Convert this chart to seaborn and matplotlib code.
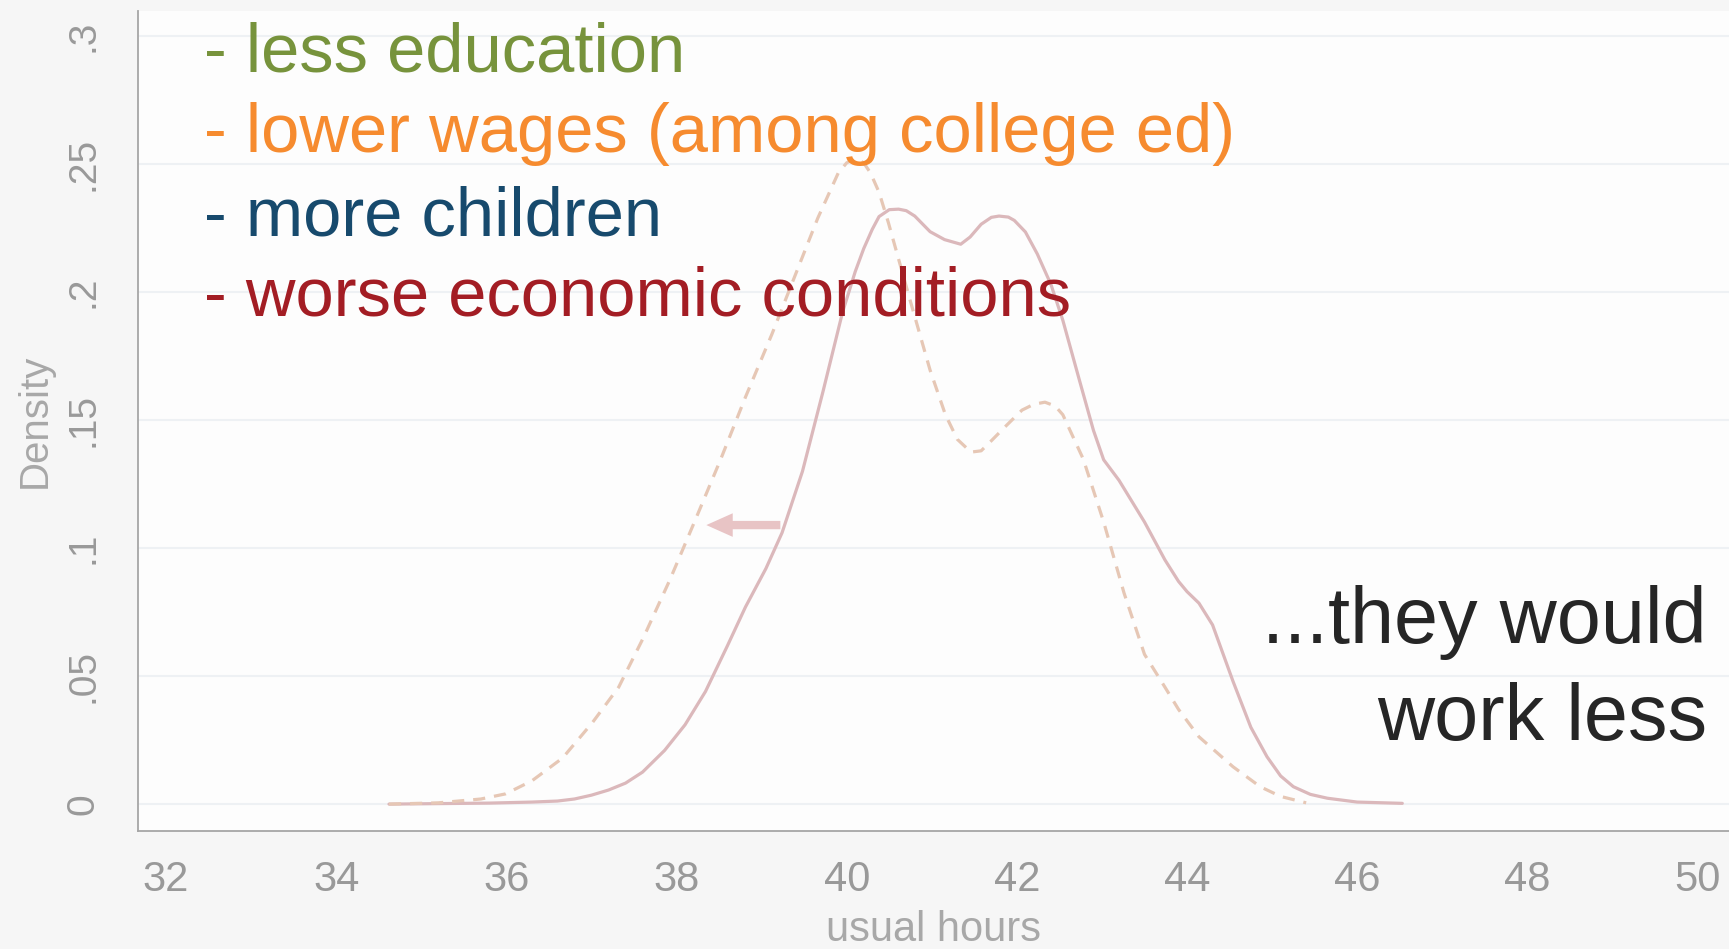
import matplotlib
matplotlib.use("Agg")
import matplotlib.pyplot as plt
import seaborn as sns
import pandas as pd

# ---- data ----
hours_actual = [34.62, 35.2, 35.8, 36.3, 36.6, 36.8, 37.0, 37.2, 37.4, 37.6, 37.86, 38.1,
                38.34, 38.6, 38.81, 39.05, 39.24, 39.48, 39.72, 39.95, 40.1, 40.2, 40.3,
                40.38, 40.5, 40.61, 40.7, 40.8, 40.98, 41.15, 41.34, 41.45, 41.58, 41.7,
                41.79, 41.9, 41.97, 42.1, 42.24, 42.4, 42.54, 42.74, 42.9, 43.02, 43.2,
                43.5, 43.74, 43.9, 44.0, 44.14, 44.3, 44.54, 44.75, 44.94, 45.1, 45.25,
                45.45, 45.65, 46.0, 46.53]
density_actual = [0.0, 0.0002, 0.0004, 0.0008, 0.0012, 0.002, 0.0035, 0.0055, 0.0082, 0.0125,
                  0.021, 0.031, 0.044, 0.062, 0.077, 0.092, 0.106, 0.130, 0.161, 0.192,
                  0.208, 0.217, 0.2245, 0.2295, 0.2322, 0.2324, 0.2318, 0.2297, 0.2236,
                  0.2205, 0.2187, 0.2215, 0.2265, 0.2292, 0.2297, 0.2293, 0.228, 0.2235,
                  0.2149, 0.203, 0.189, 0.165, 0.146, 0.1345, 0.1265, 0.1102, 0.0954,
                  0.087, 0.083, 0.0785, 0.070, 0.048, 0.030, 0.0185, 0.011, 0.0068, 0.0038,
                  0.0023, 0.0008, 0.0003]

hours_counterfactual = [34.62, 35.2, 35.7, 35.99, 36.3, 36.66, 37.01, 37.32, 37.61, 37.92,
                        38.21, 38.52, 38.81, 39.12, 39.41, 39.66, 39.9, 40.0, 40.1, 40.2,
                        40.28, 40.38, 40.49, 40.74, 40.98, 41.16, 41.3, 41.46, 41.58, 41.69,
                        41.88, 42.06, 42.2, 42.33, 42.45, 42.54, 42.78, 43.02, 43.26, 43.5,
                        43.74, 43.9, 44.14, 44.54, 44.86, 45.1, 45.4]
density_counterfactual = [0.0, 0.0005, 0.002, 0.004, 0.0091, 0.018, 0.0318, 0.0457, 0.065,
                          0.0875, 0.1102, 0.1348, 0.159, 0.1835, 0.2079, 0.2289, 0.2465,
                          0.2505, 0.2522, 0.2505, 0.2465, 0.239, 0.2271, 0.1974, 0.1695,
                          0.1521, 0.1425, 0.1375, 0.138, 0.1416, 0.148, 0.1539, 0.1562,
                          0.157, 0.1555, 0.1521, 0.1348, 0.1102, 0.0824, 0.0585, 0.0457,
                          0.037, 0.0263, 0.0146, 0.0068, 0.003, 0.0005]

x_ticks = [32, 34, 36, 38, 40, 42, 44, 46, 48, 50]
y_ticks = [0, 0.05, 0.10, 0.15, 0.20, 0.25, 0.30]
y_tick_labels = ["0", ".05", ".1", ".15", ".2", ".25", ".3"]

bullets = ["- less education", "- lower wages (among college ed)",
           "- more children", "- worse economic conditions"]
bullet_colors = ["#77933c", "#f68b2f", "#174a6d", "#a31d24"]
conclusion = ["...they would", "work less"]

# ---- style ----
sns.set_style("white")
plt.rcParams["font.family"] = ["Liberation Sans", "DejaVu Sans"]

fig = plt.figure(figsize=(17.29, 9.49), dpi=100, facecolor="#f6f6f6")
ax = fig.add_axes([138 / 1729, 1 - 831 / 949, 1 - 138 / 1729, (831 - 11) / 949])
ax.set_facecolor("#fdfdfd")

df_a = pd.DataFrame({"hours": hours_actual, "density": density_actual})
df_c = pd.DataFrame({"hours": hours_counterfactual, "density": density_counterfactual})

sns.lineplot(data=df_a, x="hours", y="density", ax=ax, color="#dbb8bb", lw=2.3,
             sort=False, estimator=None, zorder=3)
line_a = ax.lines[-1]
line_a.set_solid_joinstyle("round")
sns.lineplot(data=df_c, x="hours", y="density", ax=ax, color="#e6c7b5", lw=2.3,
             sort=False, estimator=None, zorder=3)
ax.lines[-1].set_linestyle((0, (3.8, 2.8)))

ax.annotate("", xy=(38.35, 0.109), xytext=(39.22, 0.109),
            arrowprops=dict(arrowstyle="simple,head_length=0.95,head_width=0.85,tail_width=0.3",
                            mutation_scale=20, color="#e8c4c5", lw=0, shrinkA=0, shrinkB=0),
            zorder=4)

ax.set_xlim(31.67, 50.37)
ax.set_ylim(-0.0105, 0.3098)
ax.set_xticks(x_ticks)
ax.set_xticklabels([str(t) for t in x_ticks])
ax.set_yticks(y_ticks)
ax.set_yticklabels(y_tick_labels, rotation=90, va="center")

ax.grid(axis="y", color="#eef1f4", lw=1.5)
ax.grid(axis="x", visible=False)
ax.set_axisbelow(True)

for s in ["top", "right"]:
    ax.spines[s].set_visible(False)
for s in ["left", "bottom"]:
    ax.spines[s].set_color("#a6a6a6")
    ax.spines[s].set_linewidth(1.3)

ax.tick_params(axis="both", which="major", direction="out", length=12, width=1.2,
               color="#a6a6a6", labelcolor="#999999", labelsize=30)
ax.tick_params(axis="y", pad=14, labelsize=28)
ax.tick_params(axis="x", pad=9)

ax.set_xlabel("usual hours", fontsize=30, color="#a8a8a8")
ax.xaxis.set_label_coords(0.5, -0.1207)
ax.xaxis.label.set_va("center")
ax.set_ylabel("Density", fontsize=29, color="#a8a8a8")
ax.yaxis.set_label_coords(-0.0647, 0.5)
ax.yaxis.label.set_va("center")

bullet_baselines = [71, 152, 236, 316]
for txt, col, yb in zip(bullets, bullet_colors, bullet_baselines):
    fig.text(204 / 1729, 1 - yb / 949, txt, color=col, fontsize=49.5,
             ha="left", va="baseline")

for txt, yb in zip(conclusion, [643, 740]):
    fig.text(1707 / 1729, 1 - yb / 949, txt, color="#262626", fontsize=57,
             ha="right", va="baseline")

fig.savefig("out.png", dpi=100, facecolor=fig.get_facecolor())
